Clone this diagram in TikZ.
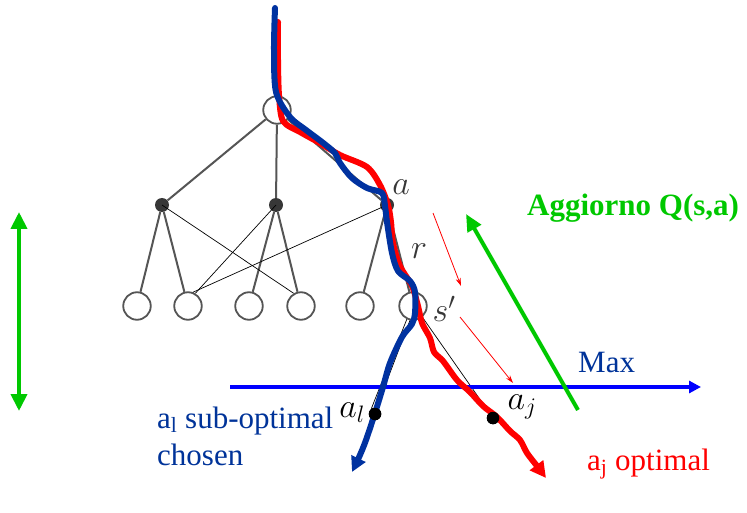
\RequirePackage{fix-cm}
\documentclass[tikz,border=0pt]{standalone}
\usepackage{fontspec}
\setmainfont{Liberation Serif}
\usetikzlibrary{arrows.meta}
\definecolor{tgray}{RGB}{85,85,85}
\definecolor{tdark}{RGB}{55,55,55}
\definecolor{mygreen}{RGB}{0,200,0}
\definecolor{pathblue}{RGB}{0,50,160}
\definecolor{textblue}{RGB}{0,51,153}
\definecolor{lineblue}{RGB}{0,0,255}
\definecolor{myred}{RGB}{255,0,0}
\begin{document}
\begin{tikzpicture}[x=1pt,y=-1pt,
  opencirc/.style={circle,draw=tgray,line width=1.8pt,minimum size=27.5pt,inner sep=0pt,fill=white},
  fullcirc/.style={circle,fill=tdark,minimum size=14pt,inner sep=0pt},
  treeedge/.style={draw=tgray,line width=2pt},
  thinline/.style={draw=black,line width=0.7pt},
  blackdot/.style={circle,fill=black,minimum size=12.5pt,inner sep=0pt},
  mathlbl/.style={font=\fontsize{34}{36}\selectfont},
  bigtxt/.style={font=\fontsize{31}{37}\selectfont},
  thickpath/.style={line width=6pt,line join=round,line cap=round},
  redhint/.style={draw=myred,line width=0.8pt,-{Stealth[length=8pt,width=5pt]}},
  greenarrow/.style={draw=mygreen,line width=4pt}
]
\useasboundingbox (0,0) rectangle (747,513);

% tree nodes
\node[opencirc] (root) at (277,110) {};
\node[fullcirc] (f1) at (162,205) {};
\node[fullcirc] (f2) at (276,205) {};
\node[fullcirc] (f3) at (387,205) {};
\node[opencirc] (c1) at (137,306) {};
\node[opencirc] (c2) at (188,306) {};
\node[opencirc] (c3) at (249,306) {};
\node[opencirc] (c4) at (301,306) {};
\node[opencirc] (c5) at (360,306) {};
\node[opencirc] (c6) at (413,306) {};

% tree edges
\draw[treeedge] (root) -- (f1);
\draw[treeedge] (root) -- (f2);
\draw[treeedge] (root) -- (f3);
\draw[treeedge] (f1) -- (c1);
\draw[treeedge] (f1) -- (c2);
\draw[treeedge] (f2) -- (c3);
\draw[treeedge] (f2) -- (c4);
\draw[treeedge] (f3) -- (c5);
\draw[treeedge] (f3) -- (c6);

% thin cross lines
\draw[thinline] (f1.center) -- (c4.120);
\draw[thinline] (f2.center) -- (c2.60);
\draw[thinline] (f3.center) -- (c2.70);

% action dots
\node[blackdot] (al) at (375,414) {};
\node[blackdot] (aj) at (493,418) {};
\draw[thinline] (c6.245) -- (al.125);
\draw[thinline] (c6.258) -- (al.75);
\draw[thinline] (c6.310) -- (aj);

% Max line
\coordinate (maxs) at (230,387);
\coordinate (maxe) at (701,387);
\draw[draw=lineblue,line width=4pt,-{Triangle[length=12pt,width=12pt]}] (maxs) -- (maxe);
\node[bigtxt,text=textblue,anchor=base west,inner sep=0pt] (maxlbl) at (578,372) {Max};

% red hint arrows
\coordinate (h1s) at (433,213);
\coordinate (h1e) at (461,286);
\coordinate (h2s) at (460,317);
\coordinate (h2e) at (513,383);
\draw[redhint] (h1s) -- (h1e);
\draw[redhint] (h2s) -- (h2e);

% green arrows
\coordinate (gds) at (578,410);
\coordinate (gde) at (466,214);
\draw[greenarrow,-{Triangle[length=17pt,width=15pt]}] (gds) -- (gde);
\coordinate (gvt) at (19,212);
\coordinate (gvb) at (19,411);
\draw[greenarrow,{Triangle[length=17pt,width=16pt]}-{Triangle[length=17pt,width=16pt]}] (gvt) -- (gvb);

% red path (optimal)
\draw[thickpath,draw=myred,-{Triangle[length=16pt,width=16pt]}] plot[smooth,tension=0.5] coordinates {
 (278,22) (278,60) (279,95) (283,121) (300,132) (318,142) (340,155) (367,167)
 (380,185) (388,205) (391,222) (393,243) (400,266) (412,286) (418,306) (422,323)
 (430,338) (434,352) (443,361) (457,380) (470,392) (483,406) (497,417) (510,431)
 (520,440) (527,453) (537,466) (546,478)};

% blue path (chosen)
\draw[thickpath,draw=pathblue,-{Triangle[length=15pt,width=15pt]}] plot[smooth,tension=0.5] coordinates {
 (275,8) (274,50) (276,92) (290,117) (306,130) (322,142) (335,153) (340,163)
 (352,178) (367,188) (382,193) (385,206) (387,222) (392,253) (398,271) (410,281)
 (415,292) (415,313) (412,324) (402,337) (390,363) (383,387) (375,413) (366,440)
 (360,455) (352,472)};

% dots on top
\node[blackdot] at (al) {};
\node[blackdot] at (aj) {};

% math labels
\node[mathlbl,text=tdark] (la) at (401,187) {$a$};
\node[mathlbl,text=tdark] (lr) at (419,251) {$r$};
\node[mathlbl,text=tdark] (ls) at (444,309) {$s'$};
\node[mathlbl,text=black] (lal) at (352,413) {$a_l$};
\node[mathlbl,text=black] (laj) at (522,407) {$a_j$};

% text labels
\node[font=\fontsize{31}{36}\selectfont\bfseries,text=mygreen,anchor=base west,inner sep=0pt] (agg) at (527,215) {Aggiorno Q(s,a)};
\node[bigtxt,text=myred,anchor=base west,inner sep=0pt] (opt) at (587,470) {a\textsubscript{j} optimal};
\node[bigtxt,text=textblue,anchor=base west,align=left,inner sep=0pt] (sub) at (157,465) {a\textsubscript{l} sub-optimal\\chosen};
\end{tikzpicture}
\end{document}
